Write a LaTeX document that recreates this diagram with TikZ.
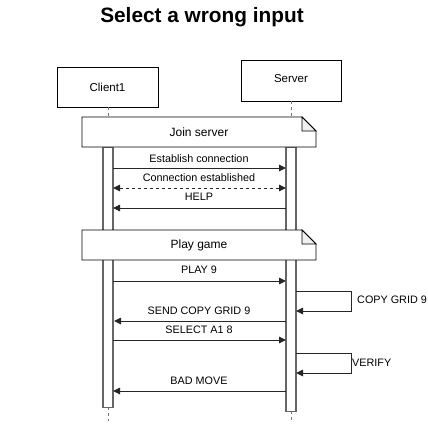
\documentclass[tikz,border=0pt]{standalone}
\usepackage{fontspec}
\setmainfont{Liberation Sans}
\usetikzlibrary{arrows.meta}
\begin{document}
\begin{tikzpicture}[x=1pt,y=-1pt,
  actor/.style={draw=black,line width=0.8pt,fill=white,minimum width=101pt,minimum height=40pt,inner sep=0pt,font=\fontsize{11.5}{13}\selectfont},
  bar/.style={draw=black!60,line width=1.2pt,fill=white,minimum width=10pt,inner sep=0pt},
  life/.style={draw=black!55,line width=0.9pt,dash pattern=on 3pt off 3pt},
  tip/.style={-{Triangle[length=7pt,width=6.5pt]}},
  msg/.style={draw=black!85,line width=0.9pt,tip},
  dmsg/.style={draw=black!85,line width=0.9pt,dash pattern=on 3pt off 3pt,{Triangle[length=7pt,width=6.5pt]}-{Triangle[length=7pt,width=6.5pt]}},
  lbl/.style={font=\fontsize{10.8}{12}\selectfont,inner sep=0pt},
  notebox/.style={line width=0.8pt,fill=white},
  notetext/.style={font=\fontsize{12}{14}\selectfont,inner sep=0pt}
]
\useasboundingbox (0,0) rectangle (428,423);
\fill[white] (0,0) rectangle (428,423);

% title
\node[font=\fontsize{20.8}{24}\selectfont\bfseries,inner sep=0pt] (title) at (202,17) {Select a wrong input};

% actors
\node[actor] (client) at (107.5,87) {Client1};
\node[actor,minimum width=100pt,minimum height=41pt] (server) at (291,80.5) {};
\node[font=\fontsize{11.5}{13}\selectfont,inner sep=0pt] (serverlbl) at (291,79) {Server};

% lifelines
\coordinate (cl1) at (108,147);
\coordinate (cl2) at (108,407);
\coordinate (cl3) at (108,421);
\coordinate (sl1) at (291,147);
\coordinate (sl2) at (291,411);
\coordinate (sl3) at (291,421);
\draw[life] (client.south -| cl1) -- (cl1);
\draw[life] (server.south -| sl1) -- (sl1);
\draw[life] (cl2) -- (cl3);
\draw[life] (sl2) -- (sl3);

% activation bars
\node[bar,minimum height=260pt,anchor=north] (cbar) at (cl1) {};
\node[bar,minimum height=264pt,anchor=north] (sbar) at (sl1) {};

% notes
\draw[notebox] (82,117) -- (302,117) -- (316,131) -- (316,147) -- (82,147) -- cycle;
\draw[line width=0.8pt,fill=black!6] (302,117) -- (302,131) -- (316,131) -- cycle;
\node[notetext] (join) at (199,132) {Join server};
\draw[notebox] (82,230) -- (302,230) -- (316,244) -- (316,260) -- (82,260) -- cycle;
\draw[line width=0.8pt,fill=black!6] (302,230) -- (302,244) -- (316,244) -- cycle;
\node[notetext] (play) at (199,245) {Play game};

% message anchors
\coordinate (a1) at (113,168); \coordinate (b1) at (286,168);
\coordinate (a2) at (113,188); \coordinate (b2) at (286,188);
\coordinate (a3) at (113,208); \coordinate (b3) at (286,208);
\coordinate (a4) at (113,281); \coordinate (b4) at (286,281);
\coordinate (a5) at (114,321); \coordinate (b5) at (286,321);
\coordinate (a6) at (113,340); \coordinate (b6) at (286,340);
\coordinate (a7) at (113,391); \coordinate (b7) at (286,391);

\draw[msg] (a1) -- (b1);
\node[lbl] (l1) at (199,159) {Establish connection};
\draw[dmsg] (a2) -- (b2);
\node[lbl] (l2) at (199,178) {Connection established};
\draw[msg] (b3) -- (a3);
\node[lbl] (l3) at (199,197) {HELP};
\draw[msg] (a4) -- (b4);
\node[lbl] (l4) at (199,270) {PLAY 9};
\draw[msg] (b5) -- (a5);
\node[lbl] (l5) at (199,311) {SEND COPY GRID 9};
\draw[msg] (a6) -- (b6);
\node[lbl] (l6) at (199,330) {SELECT A1 8};
\draw[msg] (b7) -- (a7);
\node[lbl] (l7) at (199,381) {BAD MOVE};

% self messages
\coordinate (s1a) at (296,291); \coordinate (s1b) at (296,311);
\coordinate (s2a) at (296,353); \coordinate (s2b) at (296,373);
\draw[msg] (s1a) -- (351,291) -- (351,311) -- (s1b);
\node[lbl,anchor=west] (copy) at (357,300) {COPY GRID 9};
\draw[msg] (s2a) -- (351,353) -- (351,373) -- (s2b);
\node[lbl,anchor=west] (verify) at (352,363) {VERIFY};
\end{tikzpicture}
\end{document}
